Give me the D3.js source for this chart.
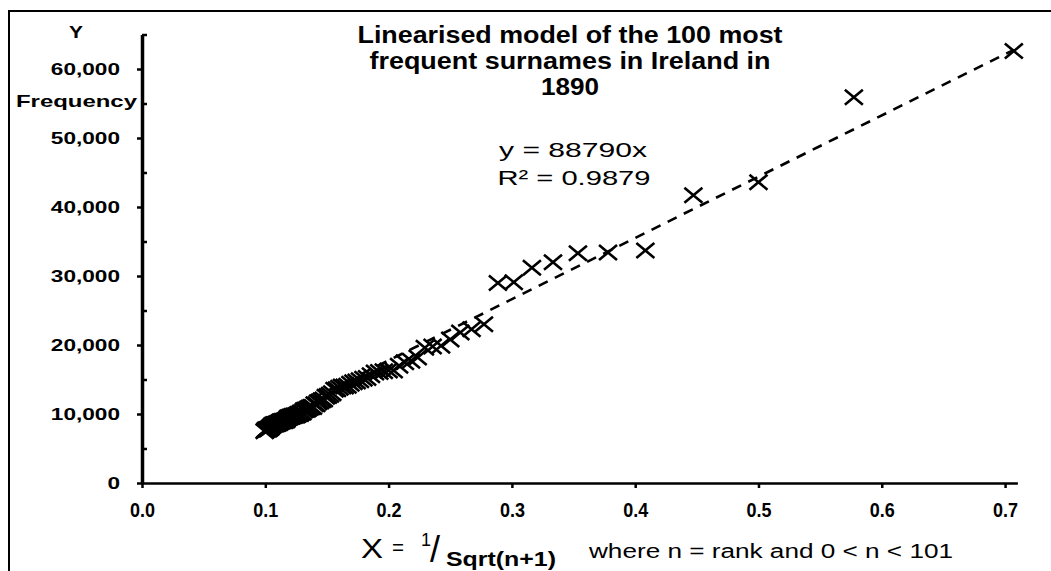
<!DOCTYPE html>
<html>
<head>
<meta charset="utf-8">
<script src="https://cdn.jsdelivr.net/npm/d3@7"></script>
<style>
  html, body { margin: 0; padding: 0; background: #fff; }
  svg { display: block; font-family: "Liberation Sans", Arial, sans-serif; }
</style>
</head>
<body>
<svg id="chart" width="1051" height="571"></svg>
<script>
// 100 most frequent surnames in Ireland, 1890 (rank order)
const surnames = [
  'Murphy', 'Kelly', 'Sullivan', 'Walsh', 'Smith', "O'Brien", 'Byrne', 'Ryan', 'Connor', "O'Neill",
  'Reilly', 'Doyle', 'McCarthy', 'Gallagher', 'Doherty', 'Kennedy', 'Lynch', 'Murray', 'Quinn', 'Moore',
  'McLoughlin', 'Carroll', 'Connolly', 'Daly', 'Connell', 'Wilson', 'Dunne', 'Brennan', 'Burke', 'Collins',
  'Campbell', 'Clarke', 'Johnston', 'Hughes', 'Farrell', 'Fitzgerald', 'Brown', 'Martin', 'Maguire', 'Nolan',
  'Flynn', 'Thompson', 'Callaghan', 'Donnell', 'Duffy', 'Mahony', 'Boyle', 'Healy', 'Shea', 'White',
  'Sweeney', 'Hayes', 'Kavanagh', 'Power', 'McGrath', 'Moran', 'Brady', 'Stewart', 'Casey', 'Foley',
  'Fitzpatrick', 'Leary', 'McDonnell', 'McMahon', 'Donnelly', 'Regan', 'Donovan', 'Burns', 'Flanagan', 'Mullan',
  'Barry', 'Kane', 'Robinson', 'Cunningham', 'Griffin', 'Kenny', 'Sheehan', 'Ward', 'Whelan', 'Lyons',
  'Reid', 'Graham', 'Higgins', 'Cullen', 'Keane', 'King', 'Maher', 'McKenna', 'Bell', 'Scott',
  'Hogan', 'Keeffe', 'Magee', 'McNamara', 'McDonald', 'McDermott', 'Moloney', 'Rourke', 'Buckley', 'Dwyer'
];

const frequency = [
  62600, 55900, 43600, 41700, 33700, 33400, 33300, 32000, 31200, 29100,
  29000, 23000, 22300, 21800, 20800, 19900, 19800, 19600, 18200, 17700,
  17500, 17000, 16300, 16300, 16200, 16100, 16000, 15600, 15200, 15100,
  14900, 14700, 14600, 14400, 14100, 14000, 14000, 13800, 13600, 13500,
  13000, 12800, 12600, 12500, 12100, 12000, 11800, 11700, 11400, 11400,
  11000, 11000, 10900, 10800, 10600, 10600, 10500, 10200, 10200, 10000,
  10000, 9900, 9800, 9800, 9700, 9700, 9600, 9600, 9500, 9500,
  9300, 9100, 9100, 9000, 9000, 9000, 8900, 8900, 8800, 8700,
  8700, 8600, 8600, 8500, 8500, 8500, 8400, 8400, 8300, 8200,
  8000, 8000, 7900, 7800, 7800, 7800, 7700, 7700, 7600, 7500
];

const xTicks = [0, 0.1, 0.2, 0.3, 0.4, 0.5, 0.6, 0.7];
const yTicks = [0, 10000, 20000, 30000, 40000, 50000, 60000];
const yMinorTicks = [5000, 15000, 25000, 35000, 45000, 55000, 65000];
const slope = 88790;       // fitted trend through the origin
const rSquared = '0.9879';

// X = 1/sqrt(n+1), n = rank (as defined on the axis title)
const points = surnames.map((name, i) => ({
  name,
  rank: i + 1,
  x: 1 / Math.sqrt(i + 2),
  y: frequency[i]
}));

const svg = d3.select('#chart');

const x = d3.scaleLinear().domain([0, 0.71]).range([142, 1017.4]);
const y = d3.scaleLinear().domain([0, 65000]).range([483, 34.5]);

// the source image is stretched sideways, so text gets a fixed width
function fit(sel, w) {
  sel.attr('textLength', w).attr('lengthAdjust', 'spacingAndGlyphs');
  return sel;
}
function stretch(sel, k) {
  sel.each(function () {
    const w = this.getComputedTextLength();
    d3.select(this).attr('textLength', w * k).attr('lengthAdjust', 'spacingAndGlyphs');
  });
}

svg.append('rect')
  .attr('width', 1051).attr('height', 571).attr('fill', '#fff');

// outer frame (cut off at right and bottom)
svg.append('rect')
  .attr('x', 9).attr('y', 11)
  .attr('width', 1200).attr('height', 700)
  .attr('fill', 'none')
  .attr('stroke', '#000')
  .attr('stroke-width', 2);

// y axis: major ticks outside, minor inside
const yAxis = svg.append('g')
  .attr('transform', `translate(${x(0)},0)`)
  .call(d3.axisLeft(y)
    .tickValues(yTicks)
    .tickSize(5)
    .tickSizeOuter(0)
    .tickPadding(17)
    .tickFormat(d3.format(',')));

yAxis.select('.domain').attr('stroke-width', 3.5);
yAxis.selectAll('.tick line').attr('stroke-width', 2.5);
yAxis.selectAll('.tick text')
  .attr('font-size', 17)
  .attr('font-weight', 'bold')
  .attr('fill', '#000')
  .call(stretch, 1.33);

svg.append('g')
  .attr('transform', `translate(${x(0)},0)`)
  .call(d3.axisRight(y).tickValues(yMinorTicks).tickSize(5).tickSizeOuter(0).tickFormat(''))
  .call(g => g.select('.domain').remove())
  .call(g => g.selectAll('.tick line').attr('stroke-width', 2.5));

// x axis
const xAxis = svg.append('g')
  .attr('transform', `translate(0,${y(0)})`)
  .call(d3.axisBottom(x)
    .tickValues(xTicks)
    .tickSize(5)
    .tickSizeOuter(0)
    .tickFormat(d3.format('.1f')));

xAxis.select('.domain').attr('stroke-width', 2.5);
xAxis.selectAll('.tick line').attr('stroke-width', 2.5);
xAxis.selectAll('.tick text')
  .attr('y', 34)
  .attr('dy', 0)
  .attr('font-size', 21)
  .attr('font-weight', 'bold')
  .attr('fill', '#000')
  .call(fit, 25);

// trendline y = 88790x over the data range
const xExtent = d3.extent(points, d => d.x);
svg.append('line')
  .attr('x1', x(xExtent[0])).attr('y1', y(slope * xExtent[0]))
  .attr('x2', x(xExtent[1])).attr('y2', y(slope * xExtent[1]))
  .attr('stroke', '#000')
  .attr('stroke-width', 2.6)
  .attr('stroke-dasharray', '10,8');

// markers
svg.append('g')
  .selectAll('path')
  .data(points)
  .join('path')
  .attr('transform', d => `translate(${x(d.x)},${y(d.y)})`)
  .attr('d', 'M-9,-7.5L9,7.5M-9,7.5L9,-7.5')
  .attr('stroke', '#000')
  .attr('stroke-width', 2.6)
  .attr('fill', 'none');

// title
const title = ['Linearised model of the 100 most', 'frequent surnames in Ireland in', '1890'];
const titleWidths = [425, 401, 58];
svg.append('g')
  .selectAll('text')
  .data(title)
  .join('text')
  .attr('x', 570)
  .attr('y', (d, i) => 43 + i * 26)
  .attr('text-anchor', 'middle')
  .attr('font-size', 23)
  .attr('font-weight', 'bold')
  .text(d => d)
  .each(function (d, i) { fit(d3.select(this), titleWidths[i]); });

// equation
svg.append('text')
  .attr('x', 573).attr('y', 157)
  .attr('text-anchor', 'middle')
  .attr('font-size', 21)
  .text(`y = ${slope}x`)
  .call(fit, 148);

svg.append('text')
  .attr('x', 574).attr('y', 185)
  .attr('text-anchor', 'middle')
  .attr('font-size', 21)
  .text(`R² = ${rSquared}`)
  .call(fit, 153);

// y axis titles
svg.append('text')
  .attr('x', 76).attr('y', 38)
  .attr('text-anchor', 'middle')
  .attr('font-size', 17)
  .attr('font-weight', 'bold')
  .text('Y')
  .call(fit, 14);

svg.append('text')
  .attr('x', 16).attr('y', 107)
  .attr('font-size', 17)
  .attr('font-weight', 'bold')
  .text('Frequency')
  .call(fit, 121);

// x axis title: X = 1/Sqrt(n+1) where ...
const xl = svg.append('g');
xl.append('text').attr('x', 361).attr('y', 558).attr('font-size', 28).text('X').call(fit, 22);
xl.append('text').attr('x', 392).attr('y', 555).attr('font-size', 22).text('=').call(fit, 12);
xl.append('text').attr('x', 421).attr('y', 546).attr('font-size', 18).text('1');
xl.append('text').attr('x', 430).attr('y', 562).attr('font-size', 36).text('/');
xl.append('text').attr('x', 446).attr('y', 566).attr('font-size', 20).attr('font-weight', 'bold')
  .text('Sqrt(n+1)').call(fit, 110);
xl.append('text').attr('x', 589).attr('y', 558).attr('font-size', 20)
  .text('where n = rank  and 0 < n < 101').call(fit, 364);
</script>
</body>
</html>
